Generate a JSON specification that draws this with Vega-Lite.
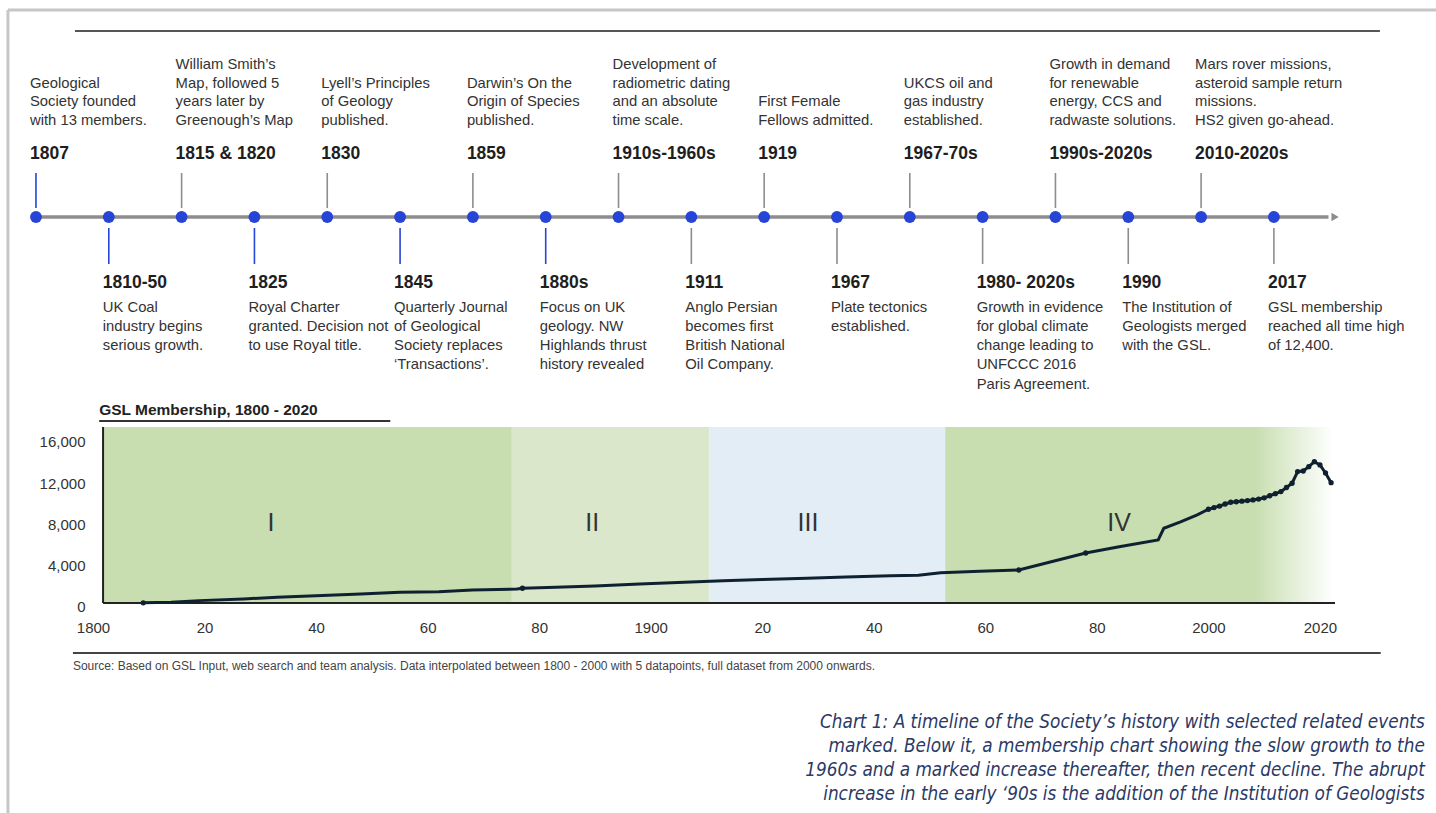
{
  "$schema": "https://vega.github.io/schema/vega-lite/v6.json",
  "width": 1436,
  "height": 813,
  "autosize": "none",
  "padding": 0,
  "background": "white",
  "config": {"view": {"stroke": null}, "font": "Liberation Sans"},
  "datasets": {
    "events": [
      {"idx": 0, "side": "above", "when": "1807", "desc": "Geological\nSociety founded\nwith 13 members."},
      {"idx": 1, "side": "below", "when": "1810-50", "desc": "UK Coal\nindustry begins\nserious growth."},
      {"idx": 2, "side": "above", "when": "1815 & 1820", "desc": "William Smith’s\nMap, followed 5\nyears later by\nGreenough’s Map"},
      {"idx": 3, "side": "below", "when": "1825", "desc": "Royal Charter\ngranted. Decision not\nto use Royal title."},
      {"idx": 4, "side": "above", "when": "1830", "desc": "Lyell’s Principles\nof Geology\npublished."},
      {"idx": 5, "side": "below", "when": "1845", "desc": "Quarterly Journal\nof Geological\nSociety replaces\n‘Transactions’."},
      {"idx": 6, "side": "above", "when": "1859", "desc": "Darwin’s On the\nOrigin of Species\npublished."},
      {"idx": 7, "side": "below", "when": "1880s", "desc": "Focus on UK\ngeology. NW\nHighlands thrust\nhistory revealed"},
      {"idx": 8, "side": "above", "when": "1910s-1960s", "desc": "Development of\nradiometric dating\nand an absolute\ntime scale."},
      {"idx": 9, "side": "below", "when": "1911", "desc": "Anglo Persian\nbecomes first\nBritish National\nOil Company."},
      {"idx": 10, "side": "above", "when": "1919", "desc": "First Female\nFellows admitted."},
      {"idx": 11, "side": "below", "when": "1967", "desc": "Plate tectonics\nestablished."},
      {"idx": 12, "side": "above", "when": "1967-70s", "desc": "UKCS oil and\ngas industry\nestablished."},
      {"idx": 13, "side": "below", "when": "1980- 2020s", "desc": "Growth in evidence\nfor global climate\nchange leading to\nUNFCCC 2016\nParis Agreement."},
      {"idx": 14, "side": "above", "when": "1990s-2020s", "desc": "Growth in demand\nfor renewable\nenergy, CCS and\nradwaste solutions."},
      {"idx": 15, "side": "below", "when": "1990", "desc": "The Institution of\nGeologists merged\nwith the GSL."},
      {"idx": 16, "side": "above", "when": "2010-2020s", "desc": "Mars rover missions,\nasteroid sample return\nmissions.\nHS2 given go-ahead."},
      {"idx": 17, "side": "below", "when": "2017", "desc": "GSL membership\nreached all time high\nof 12,400."}
    ],
    "members": [
      {"year": 1809, "members": 13},
      {"year": 1814, "members": 80},
      {"year": 1819, "members": 230},
      {"year": 1827, "members": 390},
      {"year": 1833, "members": 550},
      {"year": 1840, "members": 710},
      {"year": 1848, "members": 870},
      {"year": 1855, "members": 1040},
      {"year": 1862, "members": 1100},
      {"year": 1868, "members": 1260},
      {"year": 1876, "members": 1360},
      {"year": 1877, "members": 1430},
      {"year": 1883, "members": 1520},
      {"year": 1890, "members": 1650},
      {"year": 1898, "members": 1840},
      {"year": 1906, "members": 2010},
      {"year": 1913, "members": 2150},
      {"year": 1920, "members": 2280},
      {"year": 1928, "members": 2400},
      {"year": 1935, "members": 2520},
      {"year": 1943, "members": 2640},
      {"year": 1948, "members": 2700},
      {"year": 1952, "members": 2930},
      {"year": 1959, "members": 3070},
      {"year": 1966, "members": 3200},
      {"year": 1972, "members": 4020},
      {"year": 1978, "members": 4850},
      {"year": 1984, "members": 5450},
      {"year": 1991, "members": 6110},
      {"year": 1992, "members": 7250},
      {"year": 1995, "members": 7860},
      {"year": 1998, "members": 8540},
      {"year": 2000, "members": 9090},
      {"year": 2001, "members": 9250},
      {"year": 2002, "members": 9400},
      {"year": 2003, "members": 9600},
      {"year": 2004, "members": 9770},
      {"year": 2005, "members": 9820},
      {"year": 2006, "members": 9870},
      {"year": 2007, "members": 9930},
      {"year": 2008, "members": 9990},
      {"year": 2009, "members": 10080},
      {"year": 2010, "members": 10200},
      {"year": 2011, "members": 10400},
      {"year": 2012, "members": 10600},
      {"year": 2013, "members": 10800},
      {"year": 2014, "members": 11200},
      {"year": 2015, "members": 11610},
      {"year": 2016, "members": 12740},
      {"year": 2017, "members": 12800},
      {"year": 2018, "members": 13220},
      {"year": 2019, "members": 13700},
      {"year": 2020, "members": 13390},
      {"year": 2021, "members": 12610},
      {"year": 2022, "members": 11670}
    ],
    "phases": [
      {"phase": "I", "start": 1801.8, "end": 1875.1},
      {"phase": "II", "start": 1875.1, "end": 1910.5},
      {"phase": "III", "start": 1910.5, "end": 1952.8},
      {"phase": "IV", "start": 1952.8, "end": 2022.3}
    ]
  },
  "resolve": {"scale": {"x": "independent", "y": "independent", "color": "independent"}},
  "layer": [
    {
      "layer": [
        {
          "data": {"values": [{}]},
          "mark": {"type": "rule", "color": "#c6c6c6", "strokeWidth": 3},
          "encoding": {
            "x": {"datum": -0.385, "type": "quantitative", "scale": {"domain": [-0.494, 19.226], "nice": false, "zero": false}, "axis": null},
            "x2": {"datum": 19.4},
            "y": {"datum": 207, "type": "quantitative", "scale": {"domain": [-596, 217], "nice": false, "zero": false}, "axis": null}
          }
        },
        {
          "data": {"values": [{}]},
          "mark": {"type": "rule", "color": "#c6c6c6", "strokeWidth": 3},
          "encoding": {
            "x": {"datum": -0.385, "type": "quantitative"},
            "y": {"datum": 207, "type": "quantitative"},
            "y2": {"datum": -600}
          }
        },
        {
          "data": {"values": [{}]},
          "mark": {"type": "rule", "color": "#555555", "strokeWidth": 2},
          "encoding": {
            "x": {"datum": 0.536, "type": "quantitative"},
            "x2": {"datum": 18.456},
            "y": {"datum": 186, "type": "quantitative"}
          }
        },
        {
          "data": {"values": [{}]},
          "mark": {"type": "rule", "color": "#8d8d8d", "strokeWidth": 3.5},
          "encoding": {
            "x": {"datum": 0, "type": "quantitative"},
            "x2": {"datum": 17.75},
            "y": {"datum": 0, "type": "quantitative"}
          }
        },
        {
          "data": {"values": [{}]},
          "mark": {"type": "point", "shape": "triangle-right", "filled": true, "color": "#8d8d8d", "size": 70, "opacity": 1},
          "encoding": {
            "x": {"datum": 17.84, "type": "quantitative"},
            "y": {"datum": 0, "type": "quantitative"}
          }
        },
        {
          "data": {"name": "events"},
          "transform": [{"filter": "datum.side == 'above'"}],
          "mark": {"type": "rule", "strokeWidth": 1.6},
          "encoding": {
            "x": {"field": "idx", "type": "quantitative"},
            "y": {"datum": 44, "type": "quantitative"},
            "y2": {"datum": 9},
            "color": {"condition": {"test": "datum.idx == 0", "value": "#2644d6"}, "value": "#8d8d8d"}
          }
        },
        {
          "data": {"name": "events"},
          "transform": [{"filter": "datum.side == 'below'"}],
          "mark": {"type": "rule", "strokeWidth": 1.6},
          "encoding": {
            "x": {"field": "idx", "type": "quantitative"},
            "y": {"datum": -11, "type": "quantitative"},
            "y2": {"datum": -47},
            "color": {"condition": {"test": "datum.idx <= 7", "value": "#2644d6"}, "value": "#8d8d8d"}
          }
        },
        {
          "data": {"name": "events"},
          "mark": {"type": "point", "filled": true, "color": "#2644d6", "size": 140, "opacity": 1},
          "encoding": {
            "x": {"field": "idx", "type": "quantitative"},
            "y": {"datum": 0, "type": "quantitative"}
          }
        },
        {
          "data": {"name": "events"},
          "transform": [{"filter": "datum.side == 'above'"}],
          "mark": {"type": "text", "align": "left", "baseline": "middle", "dx": -6, "fontSize": 17.5, "fontWeight": "bold", "color": "#1e1e1e"},
          "encoding": {
            "x": {"field": "idx", "type": "quantitative"},
            "y": {"datum": 63, "type": "quantitative"},
            "text": {"field": "when"}
          }
        },
        {
          "data": {"name": "events"},
          "transform": [{"filter": "datum.side == 'above' && length(split(datum.desc, '\\n')) == 4"}],
          "mark": {"type": "text", "align": "left", "baseline": "middle", "dx": -6, "fontSize": 14.8, "lineHeight": 18.5, "lineBreak": "\n", "color": "#333333"},
          "encoding": {
            "x": {"field": "idx", "type": "quantitative"},
            "y": {"datum": 152, "type": "quantitative"},
            "text": {"field": "desc"}
          }
        },
        {
          "data": {"name": "events"},
          "transform": [{"filter": "datum.side == 'above' && length(split(datum.desc, '\\n')) == 3"}],
          "mark": {"type": "text", "align": "left", "baseline": "middle", "dx": -6, "fontSize": 14.8, "lineHeight": 18.5, "lineBreak": "\n", "color": "#333333"},
          "encoding": {
            "x": {"field": "idx", "type": "quantitative"},
            "y": {"datum": 133.5, "type": "quantitative"},
            "text": {"field": "desc"}
          }
        },
        {
          "data": {"name": "events"},
          "transform": [{"filter": "datum.side == 'above' && length(split(datum.desc, '\\n')) == 2"}],
          "mark": {"type": "text", "align": "left", "baseline": "middle", "dx": -6, "fontSize": 14.8, "lineHeight": 18.5, "lineBreak": "\n", "color": "#333333"},
          "encoding": {
            "x": {"field": "idx", "type": "quantitative"},
            "y": {"datum": 115, "type": "quantitative"},
            "text": {"field": "desc"}
          }
        },
        {
          "data": {"name": "events"},
          "transform": [{"filter": "datum.side == 'below'"}],
          "mark": {"type": "text", "align": "left", "baseline": "middle", "dx": -6, "fontSize": 17.5, "fontWeight": "bold", "color": "#1e1e1e"},
          "encoding": {
            "x": {"field": "idx", "type": "quantitative"},
            "y": {"datum": -66, "type": "quantitative"},
            "text": {"field": "when"}
          }
        },
        {
          "data": {"name": "events"},
          "transform": [{"filter": "datum.side == 'below'"}],
          "mark": {"type": "text", "align": "left", "baseline": "middle", "dx": -6, "fontSize": 14.8, "lineHeight": 19.3, "lineBreak": "\n", "color": "#333333"},
          "encoding": {
            "x": {"field": "idx", "type": "quantitative"},
            "y": {"datum": -90.5, "type": "quantitative"},
            "text": {"field": "desc"}
          }
        }
      ]
    },
    {
      "layer": [
        {
          "data": {"name": "phases"},
          "transform": [{"filter": "datum.phase != 'IV'"}],
          "mark": {"type": "rect", "opacity": 1},
          "encoding": {
            "x": {"field": "start", "type": "quantitative", "scale": {"domain": [1783.32, 2040.81], "nice": false, "zero": false}, "axis": {"orient": "bottom", "offset": -210, "domain": false, "ticks": false, "grid": false, "values": [1800, 1820, 1840, 1860, 1880, 1900, 1920, 1940, 1960, 1980, 2000, 2020], "labelExpr": "datum.value % 100 == 0 || datum.value == 2020 ? '' + datum.value : '' + (datum.value % 100)", "labelFontSize": 15, "labelColor": "#333333", "labelPadding": 17, "labelFlush": false, "labelOverlap": false, "title": null}},
            "x2": {"field": "end"},
            "y": {"datum": 0, "type": "quantitative", "scale": {"domain": [-20364, 58473], "nice": false, "zero": false}, "axis": {"orient": "left", "offset": -103, "domain": false, "ticks": false, "grid": false, "values": [0, 4000, 8000, 12000, 16000], "labelExpr": "format(datum.value, ',')", "labelFontSize": 15, "labelColor": "#333333", "labelPadding": 18, "labelOffset": 4, "labelOverlap": false, "title": null}},
            "y2": {"datum": 17067},
            "color": {"field": "phase", "type": "nominal", "scale": {"domain": ["I", "II", "III"], "range": ["#c8deb1", "#dae7cb", "#e3edf6"]}, "legend": null}
          }
        },
        {
          "data": {"name": "phases"},
          "transform": [{"filter": "datum.phase == 'IV'"}],
          "mark": {"type": "rect", "opacity": 1, "fill": {"gradient": "linear", "x1": 0, "x2": 1, "y1": 0, "y2": 0, "stops": [{"offset": 0, "color": "#c8deb1"}, {"offset": 0.8, "color": "#c8deb1"}, {"offset": 1, "color": "#ffffff"}]}},
          "encoding": {
            "x": {"field": "start", "type": "quantitative"},
            "x2": {"field": "end"},
            "y": {"datum": 0, "type": "quantitative"},
            "y2": {"datum": 17067}
          }
        },
        {
          "data": {"values": [{}]},
          "mark": {"type": "rule", "color": "#222222", "strokeWidth": 2},
          "encoding": {
            "x": {"datum": 1801.8, "type": "quantitative"},
            "y": {"datum": 0, "type": "quantitative"},
            "y2": {"datum": 17067}
          }
        },
        {
          "data": {"values": [{}]},
          "mark": {"type": "rule", "color": "#222222", "strokeWidth": 2},
          "encoding": {
            "x": {"datum": 1801.8, "type": "quantitative"},
            "x2": {"datum": 2022.7},
            "y": {"datum": 0, "type": "quantitative"}
          }
        },
        {
          "data": {"name": "members"},
          "mark": {"type": "line", "color": "#0f2131", "strokeWidth": 3},
          "encoding": {
            "x": {"field": "year", "type": "quantitative"},
            "y": {"field": "members", "type": "quantitative"}
          }
        },
        {
          "data": {"name": "members"},
          "transform": [{"filter": "datum.year >= 2000 || datum.year == 1809 || datum.year == 1877 || datum.year == 1966 || datum.year == 1978"}],
          "mark": {"type": "point", "filled": true, "color": "#0f2131", "size": 28, "opacity": 1},
          "encoding": {
            "x": {"field": "year", "type": "quantitative"},
            "y": {"field": "members", "type": "quantitative"}
          }
        },
        {
          "data": {"values": [{}]},
          "mark": {"type": "text", "fontSize": 25, "color": "#333333", "baseline": "middle", "align": "center"},
          "encoding": {"x": {"datum": 1831.9, "type": "quantitative"}, "y": {"datum": 7758, "type": "quantitative"}, "text": {"value": "I"}}
        },
        {
          "data": {"values": [{}]},
          "mark": {"type": "text", "fontSize": 25, "color": "#333333", "baseline": "middle", "align": "center"},
          "encoding": {"x": {"datum": 1889.5, "type": "quantitative"}, "y": {"datum": 7758, "type": "quantitative"}, "text": {"value": "II"}}
        },
        {
          "data": {"values": [{}]},
          "mark": {"type": "text", "fontSize": 25, "color": "#333333", "baseline": "middle", "align": "center"},
          "encoding": {"x": {"datum": 1928.2, "type": "quantitative"}, "y": {"datum": 7758, "type": "quantitative"}, "text": {"value": "III"}}
        },
        {
          "data": {"values": [{}]},
          "mark": {"type": "text", "fontSize": 25, "color": "#333333", "baseline": "middle", "align": "center"},
          "encoding": {"x": {"datum": 1984.0, "type": "quantitative"}, "y": {"datum": 7758, "type": "quantitative"}, "text": {"value": "IV"}}
        },
        {
          "data": {"values": [{}]},
          "mark": {"type": "text", "fontSize": 15.5, "fontWeight": "bold", "color": "#222222", "baseline": "middle", "align": "left"},
          "encoding": {"x": {"datum": 1801.1, "type": "quantitative"}, "y": {"datum": 18715, "type": "quantitative"}, "text": {"value": "GSL Membership, 1800 - 2020"}}
        },
        {
          "data": {"values": [{}]},
          "mark": {"type": "rule", "color": "#333333", "strokeWidth": 2},
          "encoding": {"x": {"datum": 1801.1, "type": "quantitative"}, "x2": {"datum": 1853.3}, "y": {"datum": 17648, "type": "quantitative"}}
        },
        {
          "data": {"values": [{}]},
          "mark": {"type": "rule", "color": "#444444", "strokeWidth": 2},
          "encoding": {"x": {"datum": 1796.4, "type": "quantitative"}, "x2": {"datum": 2030.9}, "y": {"datum": -4849, "type": "quantitative"}}
        },
        {
          "data": {"values": [{}]},
          "mark": {"type": "text", "fontSize": 12, "color": "#444444", "baseline": "middle", "align": "left"},
          "encoding": {"x": {"datum": 1796.4, "type": "quantitative"}, "y": {"datum": -6109, "type": "quantitative"}, "text": {"value": "Source: Based on GSL Input, web search and team analysis. Data interpolated between 1800 - 2000 with 5 datapoints, full dataset from 2000 onwards."}}
        },
        {
          "data": {"values": [{}]},
          "mark": {"type": "text", "font": "Liberation Sans Narrow, DejaVu Sans Condensed, sans-serif", "fontSize": 18.8, "fontStyle": "italic", "color": "#2b3a67", "baseline": "middle", "align": "right", "lineBreak": "\n", "lineHeight": 24},
          "encoding": {"x": {"datum": 2038.8, "type": "quantitative"}, "y": {"datum": -11539, "type": "quantitative"}, "text": {"value": "Chart 1: A timeline of the Society’s history with selected related events\nmarked. Below it, a membership chart showing the slow growth to the\n1960s and a marked increase thereafter, then recent decline. The abrupt\nincrease in the early ‘90s is the addition of the Institution of Geologists"}}
        }
      ]
    }
  ]
}
